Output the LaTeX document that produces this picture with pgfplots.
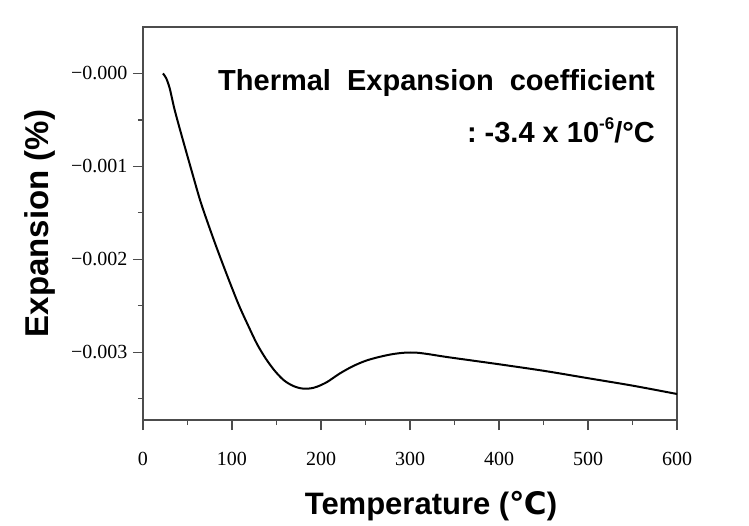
\documentclass[border=0pt]{standalone}
\usepackage{pgfplots}
\pgfplotsset{compat=1.18}
\usepackage{fontspec}
\setmainfont{Liberation Sans}
\newfontfamily\tickfont{Liberation Serif}
\newfontfamily\dejavu{DejaVu Sans}
\begin{document}
\begin{tikzpicture}
\begin{axis}[
  scale only axis, width=534pt, height=393pt,
  xmin=0, xmax=600, ymin=-0.00373, ymax=0.0005,
  xtick={0,100,...,600},
  minor xtick={50,150,250,350,450,550},
  ytick={-0.003,-0.002,-0.001,0},
  yticklabels={−0.003,−0.002,−0.001,−0.000},
  minor ytick={-0.0035,-0.0025,-0.0015,-0.0005},
  xtick pos=bottom, ytick pos=left,
  scaled y ticks=false,
  tick align=outside,
  major tick length=10pt, minor tick length=5pt,
  axis line style={black!70, line width=1.5pt},
  every tick/.style={black!70, line width=1.2pt},
  /pgf/number format/assume math mode=true,
  xticklabel style={font=\tickfont\fontsize{20}{20}\selectfont, yshift=-19pt},
  yticklabel style={font=\tickfont\fontsize{20}{20}\selectfont, xshift=-2pt},
  xlabel={Temperature ({\dejavu ℃})},
  ylabel={Expansion (\%)},
  xlabel style={font=\bfseries\fontsize{31}{31}\selectfont, at={(rel axis cs:0.5,0)}, anchor=base, yshift=-94pt, xshift=21pt},
  ylabel style={font=\bfseries\fontsize{33}{33}\selectfont, at={(rel axis cs:0,0.5)}, anchor=base, rotate=0, yshift=94pt},
  clip=false,
]
\addplot[black, line width=2pt, smooth, tension=0.5] coordinates {
(22.4,0) (26,-0.00005) (30,-0.00016) (35,-0.00037) (40,-0.00055)
(47,-0.00079) (55,-0.00106) (65,-0.00139) (78,-0.00175) (88,-0.00201)
(98,-0.00226) (108,-0.0025) (118,-0.00271) (128,-0.00291) (138,-0.00307)
(148,-0.0032) (158,-0.0033) (168,-0.00336) (178,-0.00339) (188,-0.00339)
(196,-0.00337) (207,-0.00332) (221,-0.00323) (236,-0.00315) (251,-0.00309)
(266,-0.00305) (281,-0.00302) (295,-0.003005) (307,-0.003005) (320,-0.00302)
(340,-0.00305) (370,-0.00309) (400,-0.00313) (450,-0.0032) (500,-0.00328)
(550,-0.00336) (600,-0.00345)
};
\node[anchor=base east, font=\bfseries\fontsize{29}{29}\selectfont, inner sep=0pt]
  at (rel axis cs:0.959,0.838) {Thermal\ \ Expansion\ \ coefficient};
\node[anchor=base east, font=\bfseries\fontsize{29}{29}\selectfont, inner sep=0pt]
  at (rel axis cs:0.959,0.705) {:\ -3.4 x 10\raisebox{0.45em}{\fontsize{17}{17}\selectfont -6}/°C};
\coordinate (bl) at (rel axis cs:0,0);
\coordinate (tr) at (rel axis cs:1,1);
\end{axis}
\pgfresetboundingbox
\path ([shift={(-143pt,-105pt)}]bl) rectangle ([shift={(72pt,27pt)}]tr);
\end{tikzpicture}
\end{document}
